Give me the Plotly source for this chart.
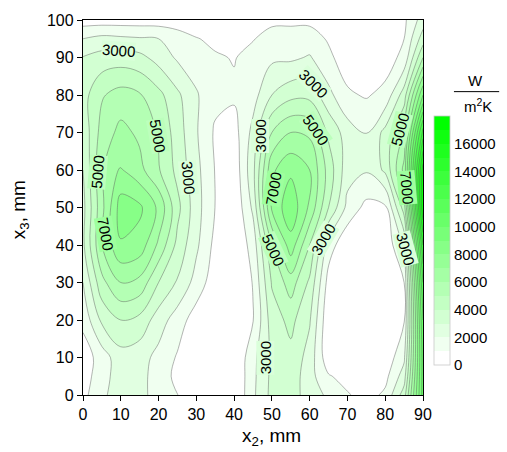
import plotly.graph_objects as go

x2_mm = [0, 5, 10, 15, 20, 25, 30, 35, 40, 45, 50, 55, 60, 65, 70, 75, 80, 85, 90]
x3_mm = [0, 5, 10, 20, 30, 40, 50, 60, 70, 80, 90, 95, 100]

# heat transfer coefficient, W/(m^2 K); one list per x3 row
h_y000 = [700, 1800, 2500, 2300, 1600, 1020, 300, 100, 0, 1800, 3300, 3600, 2400, 1850, 1100, 600, 1200, 3500, 10500]
h_y005 = [500, 1600, 2500, 2300, 1600, 700, 200, 100, 0, 1750, 3250, 3600, 2400, 1100, 600, 300, 700, 2500, 10500]
h_y010 = [400, 1500, 2600, 2400, 1700, 900, 300, 100, 0, 1700, 3200, 3700, 2600, 300, 100, 50, 300, 1800, 10500]
h_y020 = [1300, 3200, 4000, 3700, 2500, 1500, 500, 150, 0, 950, 3500, 4300, 3100, 200, 0, 0, 100, 900, 11000]
h_y030 = [2000, 4700, 6000, 5700, 4000, 2900, 1600, 400, 50, 1050, 4100, 5500, 3800, 600, 0, 0, 100, 1000, 12000]
h_y040 = [2800, 6000, 7900, 7600, 5800, 3700, 2200, 700, 100, 1400, 5000, 7600, 5000, 1500, 200, 100, 200, 2200, 14000]
h_y050 = [2700, 5700, 8500, 8200, 6800, 4300, 2400, 980, 150, 2200, 7200, 8700, 6800, 4000, 1700, 700, 800, 4500, 17000]
h_y060 = [3000, 5900, 7100, 6300, 5100, 3700, 2300, 950, 300, 2700, 6800, 7800, 7000, 4600, 2400, 2100, 3200, 6300, 16500]
h_y070 = [3300, 5400, 6300, 5800, 4900, 3500, 2100, 850, 600, 2300, 5000, 6000, 5800, 3800, 2500, 1990, 3300, 5200, 13500]
h_y080 = [3600, 4900, 5400, 5100, 4300, 3200, 2100, 1300, 1150, 1600, 3000, 3700, 3700, 2300, 1150, 900, 1300, 3500, 9000]
h_y090 = [3050, 3400, 3500, 3300, 2600, 1850, 1500, 1100, 950, 1300, 1800, 1800, 2100, 1200, 500, 300, 500, 1300, 5000]
h_y095 = [2000, 2300, 2200, 2100, 2000, 1500, 1050, 800, 800, 950, 1350, 1300, 1400, 900, 300, 200, 200, 1000, 3500]
h_y100 = [500, 500, 500, 500, 500, 450, 400, 300, 300, 700, 800, 850, 800, 500, 200, 100, 100, 800, 2500]

h_rows = [h_y000, h_y005, h_y010, h_y020, h_y030, h_y040, h_y050,
          h_y060, h_y070, h_y080, h_y090, h_y095, h_y100]

# contour labels: level, x2, x3, text angle
label_level = [3000, 5000, 7000, 5000, 3000,
               3000, 3000, 5000, 7000, 5000, 3000, 3000,
               5000, 7000, 3000]
label_x2 = [9.3, 3.8, 5.9, 19.7, 27.9,
            47.0, 61.0, 61.5, 50.3, 50.3, 63.6, 48.2,
            84.0, 85.8, 85.3]
label_x3 = [91.8, 59.4, 43.0, 69.1, 58.0,
            69.1, 83.1, 70.7, 54.9, 38.8, 41.4, 9.8,
            70.7, 55.4, 39.0]
label_angle = [4, -85, 80, 80, 85,
               -90, 45, 55, -80, 65, -60, -90,
               -75, 85, 75]

cbar_ticks = [0, 2000, 4000, 6000, 8000, 10000, 12000, 14000, 16000]

FONT = "Arial, Liberation Sans, sans-serif"
LINE_COLOR = "rgba(90,90,90,0.75)"
STEP = 1000
NBANDS = 18


def band_rgb(t):
    v = round(255 * (1 - t))
    return f"rgb({v},255,{v})"


fig = go.Figure()

# filled bands (colour of band k = k/17 along white -> green)
fig.add_trace(go.Contour(
    x=x2_mm, y=x3_mm, z=h_rows,
    autocontour=False,
    contours=dict(start=1000, end=17000, size=STEP, coloring="fill", showlines=True),
    colorscale=[[0, "#ffffff"], [1, "#00ff00"]],
    line=dict(width=0.6, color=LINE_COLOR),
    showscale=False,
    hoverinfo="skip",
))

# discrete colour bar 0..18000
disc = []
for k in range(NBANDS):
    c = band_rgb(k / (NBANDS - 1))
    disc.append([k / NBANDS, c])
    disc.append([(k + 1) / NBANDS, c])

fig.add_trace(go.Scatter(
    x=[None], y=[None], mode="markers",
    marker=dict(color=[0], cmin=0, cmax=NBANDS * STEP, colorscale=disc, showscale=True,
                colorbar=dict(
                    x=1.032, xanchor="left", xpad=0,
                    y=0.4116, yanchor="middle", ypad=0,
                    len=0.665, lenmode="fraction",
                    thickness=16, thicknessmode="pixels",
                    outlinewidth=0.8, outlinecolor="#c8c8c8",
                    tickmode="array", tickvals=cbar_ticks, tickformat="d",
                    ticks="",
                    tickfont=dict(family=FONT, size=15, color="black"),
                )),
    hoverinfo="skip", showlegend=False,
))

# band separators inside the colour bar
cb_bottom = 0.4116 - 0.665 / 2
cb_x0 = 1.032
cb_x1 = 1.032 + 16 / 340
for k in range(1, NBANDS):
    yy = cb_bottom + 0.665 * k / NBANDS
    fig.add_shape(type="line", xref="paper", yref="paper", x0=cb_x0, x1=cb_x1, y0=yy, y1=yy,
                  line=dict(color="rgba(120,120,120,0.35)", width=0.6))

# contour labels
for lev, lx, ly, ang in zip(label_level, label_x2, label_x3, label_angle):
    t = (lev / STEP - 0.5) / (NBANDS - 1)
    fig.add_annotation(x=lx, y=ly, xref="x", yref="y", text=str(lev), textangle=ang,
                       showarrow=False, xanchor="center", yanchor="middle",
                       bgcolor=band_rgb(t), borderpad=0,
                       font=dict(family=FONT, size=15, color="black"))

axis_common = dict(
    showgrid=False, zeroline=False,
    showline=True, linecolor="black", linewidth=1.3, mirror=True,
    ticks="outside", ticklen=5, tickwidth=1.3, tickcolor="black",
    tickfont=dict(family=FONT, size=16, color="black"),
)

fig.update_xaxes(range=[0, 90], tickmode="linear", tick0=0, dtick=10, **axis_common)
fig.update_yaxes(range=[0, 100], tickmode="linear", tick0=0, dtick=10, **axis_common)

# axis titles
fig.add_annotation(text="x<sub>2</sub>, mm", xref="paper", yref="paper", x=0.554, y=-0.111,
                   xanchor="center", yanchor="middle", showarrow=False,
                   font=dict(family=FONT, size=19, color="black"))
fig.add_annotation(text="x<sub>3</sub>, mm", xref="paper", yref="paper", x=-0.185, y=0.493,
                   xanchor="center", yanchor="middle", textangle=-90, showarrow=False,
                   font=dict(family=FONT, size=19, color="black"))

# colour bar unit title: W over m^2K
fig.add_annotation(text="W", xref="paper", yref="paper", x=1.153, y=0.839,
                   xanchor="center", yanchor="middle",
                   showarrow=False, font=dict(family=FONT, size=15, color="black"))
fig.add_annotation(text="m<sup>2</sup>K", xref="paper", yref="paper", x=1.162, y=0.773,
                   xanchor="center", yanchor="middle",
                   showarrow=False, font=dict(family=FONT, size=15, color="black"))
fig.add_shape(type="line", xref="paper", yref="paper", x0=1.091, x1=1.224, y0=0.809, y1=0.809,
              line=dict(color="black", width=1))

fig.update_layout(
    width=507, height=452,
    margin=dict(l=83, r=84, t=16, b=57),
    paper_bgcolor="white", plot_bgcolor="white",
    font=dict(family=FONT, color="black"),
    showlegend=False,
)

fig.write_html("out.html")
